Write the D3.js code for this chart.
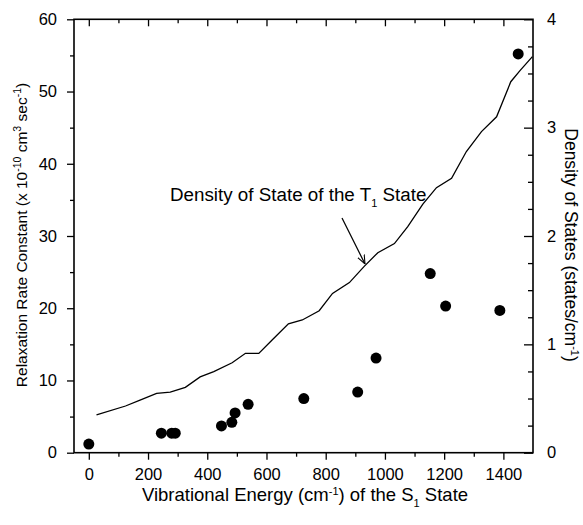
<!DOCTYPE html>
<html><head><meta charset="utf-8">
<script src="https://cdn.jsdelivr.net/npm/d3@7"></script>
<style>body{margin:0;background:#fff}svg{display:block}text,tspan{font-family:Arial,"Liberation Sans",sans-serif;fill:#000}</style>
</head><body>
<svg id="c" width="583" height="525"></svg>
<script>
// Vibrational energy (cm-1) and relaxation rate constant (x1e-10 cm3 s-1)
const energy = [0,245,280,292,448,483,494,538,726,908,970,1153,1205,1388,1450];
const rate   = [1.2,2.7,2.7,2.7,3.7,4.2,5.5,6.7,7.5,8.4,13.1,24.8,20.3,19.7,55.2];
// Density of states of T1 (states/cm-1)
const dosEnergy = [26,124,173,229,275,326,376,422,484,529,574,619,674,721,778,823,880,930,976,1032,1077,1128,1174,1225,1275,1326,1377,1425,1456,1498];
const dosValue  = [0.348,0.431,0.486,0.548,0.56,0.603,0.70,0.748,0.83,0.917,0.917,1.04,1.19,1.225,1.31,1.47,1.57,1.72,1.846,1.93,2.086,2.295,2.446,2.532,2.78,2.963,3.10,3.424,3.526,3.655];
const xTicks = [0,200,400,600,800,1000,1200,1400];
const xMinor = [100,300,500,700,900,1100,1300];
const yTicks = [0,10,20,30,40,50,60];
const yMinor = [5,15,25,35,45,55];
const y2Ticks = [0,1,2,3,4];
const y2Minor = [0.25,0.5,0.75,1.25,1.5,1.75,2.25,2.5,2.75,3.25,3.5,3.75];

const L=74,R=533,T=19.3,B=452.7;
const svg=d3.select("#c");
const x=d3.scaleLinear().domain([-50,1500]).range([L,R]);
const y=d3.scaleLinear().domain([0,60]).range([B,T]);
const y2=d3.scaleLinear().domain([0,4]).range([B,T]);
const fmt=d3.format("d");

function styleAxis(g){g.select(".domain").remove();g.selectAll("line").attr("stroke","#000").attr("stroke-width",1.3);g.selectAll("text").style("font-size","16.5px").attr("fill","#000");}

// bottom axis
svg.append("g").attr("transform",`translate(0,${B})`).call(d3.axisBottom(x).tickValues(xTicks).tickSize(7).tickPadding(9).tickFormat(fmt)).call(styleAxis);
svg.append("g").attr("transform",`translate(0,${B})`).call(d3.axisBottom(x).tickValues(xMinor).tickSize(4).tickFormat("")).call(styleAxis);
// top axis (inward ticks)
svg.append("g").attr("transform",`translate(0,${T})`).call(d3.axisBottom(x).tickValues(xTicks).tickSize(7).tickFormat("")).call(styleAxis);
svg.append("g").attr("transform",`translate(0,${T})`).call(d3.axisBottom(x).tickValues(xMinor).tickSize(4).tickFormat("")).call(styleAxis);
// left axis
svg.append("g").attr("transform",`translate(${L},0)`).call(d3.axisLeft(y).tickValues(yTicks).tickSize(7).tickPadding(10).tickFormat(fmt)).call(styleAxis);
svg.append("g").attr("transform",`translate(${L},0)`).call(d3.axisLeft(y).tickValues(yMinor).tickSize(4).tickFormat("")).call(styleAxis);
// right axis (inward ticks)
svg.append("g").attr("transform",`translate(${R},0)`).call(d3.axisLeft(y2).tickValues(y2Ticks).tickSize(9).tickFormat("")).call(styleAxis);
svg.append("g").attr("transform",`translate(${R},0)`).call(d3.axisLeft(y2).tickValues(y2Minor).tickSize(5).tickFormat("")).call(styleAxis);
svg.append("g").selectAll("text").data(y2Ticks).join("text")
  .attr("x",R+14).attr("y",d=>y2(d)).attr("dy","0.35em").style("font-size","16.5px").text(d=>d);

// frame
svg.append("rect").attr("x",L).attr("y",T).attr("width",R-L).attr("height",B-T)
  .attr("fill","none").attr("stroke","#000").attr("stroke-width",1.6);

// density line
const dos=dosEnergy.map((e,i)=>[e,dosValue[i]]);
svg.append("path").datum(dos).attr("fill","none").attr("stroke","#000").attr("stroke-width",1.3)
  .attr("d",d3.line().x(d=>x(d[0])).y(d=>y2(d[1])));

// scatter
svg.append("g").selectAll("circle").data(energy.map((e,i)=>[e,rate[i]])).join("circle")
  .attr("cx",d=>x(d[0])).attr("cy",d=>y(d[1])).attr("r",5.5).attr("fill","#000");

// annotation
const ann=svg.append("text").attr("x",170).attr("y",201).style("font-size","18.8px");
ann.append("tspan").text("Density of State of the T");
ann.append("tspan").attr("dy",6).style("font-size","11px").text("1");
ann.append("tspan").attr("dy",-6).text(" State");
svg.append("defs").append("marker").attr("id","ah").attr("viewBox","0 0 10 10").attr("refX",10).attr("refY",5)
  .attr("markerWidth",9).attr("markerHeight",9).attr("markerUnits","userSpaceOnUse").attr("orient","auto")
  .append("path").attr("d","M0,1 L10,5 L0,9").attr("fill","none").attr("stroke","#000").attr("stroke-width",1.2);
svg.append("line").attr("x1",342).attr("y1",218).attr("x2",365).attr("y2",264)
  .attr("stroke","#000").attr("stroke-width",1.2).attr("marker-end","url(#ah)");

// axis titles
const xl=svg.append("text").attr("x",305).attr("y",501).attr("text-anchor","middle").style("font-size","18.5px");
xl.append("tspan").text("Vibrational Energy (cm");
xl.append("tspan").attr("dy",-6).style("font-size","11px").text("-1");
xl.append("tspan").attr("dy",6).text(") of the S");
xl.append("tspan").attr("dy",6).style("font-size","11px").text("1");
xl.append("tspan").attr("dy",-6).text(" State");

const yl=svg.append("text").attr("transform","translate(27,235) rotate(-90)").attr("text-anchor","middle").style("font-size","15.5px");
yl.append("tspan").text("Relaxation Rate Constant (x 10");
yl.append("tspan").attr("dy",-6).style("font-size","10.5px").text("-10");
yl.append("tspan").attr("dy",6).text(" cm");
yl.append("tspan").attr("dy",-6).style("font-size","10.5px").text("3");
yl.append("tspan").attr("dy",6).text(" sec");
yl.append("tspan").attr("dy",-6).style("font-size","10.5px").text("-1");
yl.append("tspan").attr("dy",6).text(")");

const y2l=svg.append("text").attr("transform","translate(565,245) rotate(90)").attr("text-anchor","middle").style("font-size","17.5px");
y2l.append("tspan").text("Density of States (states/cm");
y2l.append("tspan").attr("dy",-6).style("font-size","11px").text("-1");
y2l.append("tspan").attr("dy",6).text(")");
</script>
</body></html>
